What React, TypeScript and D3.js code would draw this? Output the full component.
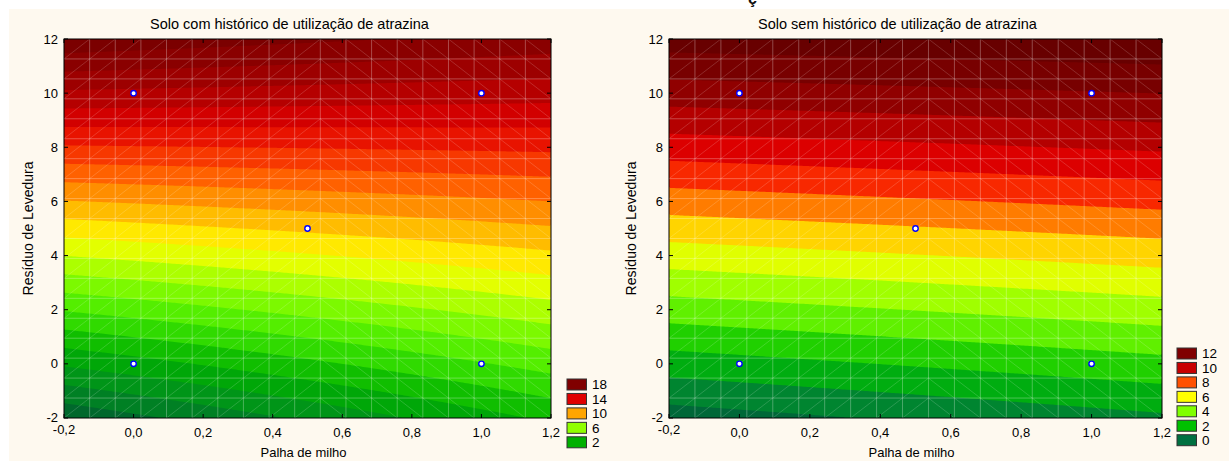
import React, { useMemo } from "react";
import * as d3 from "d3";

// Experimental design (palha de milho x resíduo de levedura) and measured response
const palha = [0, 1, 0, 1, 0.5];
const residuo = [0, 0, 10, 10, 5];
const respostaCom = [1.6, 3.93, 15.77, 15.46, 9.2];
const respostaSem = [1.67, 2.52, 11.57, 11.94, 6.93];

const xTicks = [-0.2, 0, 0.2, 0.4, 0.6, 0.8, 1.0, 1.2];
const yTicks = [-2, 0, 2, 4, 6, 8, 10, 12];

const legendCom = [18, 14, 10, 6, 2];
const legendSem = [12, 10, 8, 6, 4, 2, 0];

const stopsCom = [-3, -2, 0, 2, 4, 6, 8, 10, 12, 14, 16, 18, 20, 22];
const coresCom = [
  "#004d28", "#005c30", "#008c20", "#00b000", "#40e800", "#90ff00", "#ffff00",
  "#ffa500", "#ff4a00", "#e00000", "#a60000", "#800000", "#6c0000", "#600000",
];
const stopsSem = [-2, -1, 0, 1, 2, 3, 4, 5, 6, 7, 8, 9, 10, 11, 12, 13, 14];
const coresSem = [
  "#005028", "#006030", "#007040", "#009a20", "#00c000", "#40e000", "#80ff00",
  "#c0ff00", "#ffff00", "#ffa800", "#ff5000", "#f00000", "#c80000", "#a00000",
  "#800000", "#700000", "#600000",
];

const titulos = [
  "Solo com histórico de utilização de atrazina",
  "Solo sem histórico de utilização de atrazina",
];
const rotuloX = "Palha de milho";
const rotuloY = "Resíduo de Levedura";

const W = 1229;
const H = 461;
const FONT = "'Liberation Sans', Arial, sans-serif";
const GRID = 240;
const MESH = 19;
const BG = "#FEF9EF";

function solve(A: number[][], b: number[]): number[] {
  const n = b.length;
  const M = A.map((r, i) => [...r, b[i]]);
  for (let c = 0; c < n; c++) {
    let p = c;
    for (let r = c + 1; r < n; r++) if (Math.abs(M[r][c]) > Math.abs(M[p][c])) p = r;
    [M[c], M[p]] = [M[p], M[c]];
    for (let r = 0; r < n; r++) {
      if (r === c) continue;
      const f = M[r][c] / M[c][c];
      for (let k = c; k <= n; k++) M[r][k] -= f * M[c][k];
    }
  }
  return M.map((r, i) => r[n] / r[i]);
}

// least-squares fit of z = b0 + b1 x + b2 y + b12 x y
function fitSurface(x: number[], y: number[], z: number[]) {
  const X = x.map((xi, i) => [1, xi, y[i], xi * y[i]]);
  const idx = [0, 1, 2, 3];
  const XtX = idx.map((a) => idx.map((b) => d3.sum(X, (r) => r[a] * r[b])));
  const Xtz = idx.map((a) => d3.sum(X, (r, i) => r[a] * z[i]));
  const beta = solve(XtX, Xtz);
  return (px: number, py: number) => beta[0] + beta[1] * px + beta[2] * py + beta[3] * px * py;
}

const fmtX = (v: number) => v.toFixed(1).replace(".", ",");

type PanelProps = {
  left: number;
  right: number;
  top: number;
  bottom: number;
  title: string;
  resposta: number[];
  stops: number[];
  cores: string[];
  legend: number[];
  legendX: number;
  legendTop: number;
  yLabelX: number;
};

function Panel(p: PanelProps) {
  const x = d3.scaleLinear().domain([-0.2, 1.2]).range([p.left, p.right]);
  const y = d3.scaleLinear().domain([-2, 12]).range([p.bottom, p.top]);
  const color = d3.scaleLinear<string>().domain(p.stops).range(p.cores).interpolate(d3.interpolateRgb).clamp(true);

  const bands = useMemo(() => {
    const f = fitSurface(palha, residuo, p.resposta);
    const [x0, x1] = x.domain();
    const [y0, y1] = y.domain();
    const values = new Array(GRID * GRID);
    for (let j = 0; j < GRID; j++) {
      const yv = y1 - ((j + 0.5) / GRID) * (y1 - y0);
      for (let i = 0; i < GRID; i++) {
        const xv = x0 + ((i + 0.5) / GRID) * (x1 - x0);
        values[j * GRID + i] = f(xv, yv);
      }
    }
    const [mn, mx] = d3.extent(values) as [number, number];
    const th = d3.range(Math.floor(mn) - 1, Math.ceil(mx) + 1);
    const cs = d3.contours().size([GRID, GRID]).thresholds(th)(values);
    const L = p.left, T = p.top, w = p.right - p.left, h = p.bottom - p.top;
    const proj = d3.geoTransform({
      point: function (this: any, px: number, py: number) {
        this.stream.point(L + (px / GRID) * w, T + (py / GRID) * h);
      },
    });
    const path = d3.geoPath(proj);
    return cs.map((c) => ({ d: path(c as any) || "", fill: color(c.value + 0.5) }));
  }, [p.resposta]);

  // surface mesh: grid lines and cell diagonals
  const mesh = useMemo(() => {
    const g = d3.path();
    const diag = d3.path();
    const dx = (p.right - p.left) / MESH;
    const dy = (p.bottom - p.top) / MESH;
    for (let k = 1; k < MESH; k++) {
      g.moveTo(p.left + k * dx, p.top);
      g.lineTo(p.left + k * dx, p.bottom);
      g.moveTo(p.left, p.top + k * dy);
      g.lineTo(p.right, p.top + k * dy);
    }
    for (let i = 0; i < MESH; i++) {
      const xl = p.left + i * dx, xr = xl + dx;
      const forward = i <= (MESH - 1) / 2;
      for (let j = 0; j < MESH; j++) {
        const yt = p.top + j * dy, yb = yt + dy;
        if (forward) {
          diag.moveTo(xl, yb);
          diag.lineTo(xr, yt);
        } else {
          diag.moveTo(xl, yt);
          diag.lineTo(xr, yb);
        }
      }
    }
    return { grid: g.toString(), diag: diag.toString() };
  }, []);

  const cx = (p.left + p.right) / 2;
  const cy = (p.top + p.bottom) / 2;
  const tick = 4;

  return (
    <g fontFamily={FONT} fill="#000">
      <text x={cx - 18} y={29} fontSize={14.5} textAnchor="middle">{p.title}</text>
      {bands.map((b, i) => (
        <path key={i} d={b.d} fill={b.fill} stroke="none" />
      ))}
      <path d={mesh.grid} stroke="#ffffff" strokeOpacity={0.36} strokeWidth={0.8} fill="none" />
      <path d={mesh.diag} stroke="#ffffff" strokeOpacity={0.28} strokeWidth={0.6} fill="none" />
      {palha.map((v, i) => (
        <circle key={i} cx={x(v)} cy={y(residuo[i])} r={2.7} fill="#ffffff" stroke="#0000ff" strokeWidth={1.4} />
      ))}
      <rect x={p.left} y={p.top} width={p.right - p.left} height={p.bottom - p.top} fill="none" stroke="#000" strokeWidth={1} />
      {xTicks.map((v, i) => (
        <g key={"x" + i}>
          <line x1={x(v)} x2={x(v)} y1={p.bottom} y2={p.bottom - tick} stroke="#000" />
          <line x1={x(v)} x2={x(v)} y1={p.top} y2={p.top + tick} stroke="#000" />
          <text x={x(v)} y={i === 0 ? 434 : 437} fontSize={13} textAnchor="middle">{fmtX(v)}</text>
        </g>
      ))}
      {yTicks.map((v, i) => (
        <g key={"y" + i}>
          <line x1={p.left} x2={p.left + tick} y1={y(v)} y2={y(v)} stroke="#000" />
          <line x1={p.right} x2={p.right - tick} y1={y(v)} y2={y(v)} stroke="#000" />
          <text x={p.left - 6} y={i === 0 ? y(v) - 1 : y(v)} dy="0.35em" fontSize={13} textAnchor="end">{String(v)}</text>
        </g>
      ))}
      <text x={cx - 4} y={457} fontSize={13} textAnchor="middle">{rotuloX}</text>
      <text transform={`translate(${p.yLabelX},${cy}) rotate(-90)`} fontSize={14} textAnchor="middle">{rotuloY}</text>
      {p.legend.map((v, i) => (
        <g key={"l" + i}>
          <rect x={p.legendX} y={p.legendTop + i * 14.45} width={19.5} height={11} fill={color(v)} stroke="#333" strokeWidth={1} />
          <text x={p.legendX + 25} y={p.legendTop + i * 14.45 + 5.5} dy="0.36em" fontSize={13.5}>{String(v)}</text>
        </g>
      ))}
    </g>
  );
}

export default function App() {
  return (
    <svg width={W} height={H} style={{ position: "absolute", left: 0, top: 0, display: "block" }}>
      <rect x={0} y={0} width={W} height={H} fill="#ffffff" />
      <text x={748} y={4} fontSize={16} fontWeight="bold" fontFamily={FONT} fill="#111">ç</text>
      <rect x={9} y={9} width={W - 9} height={H - 9} fill={BG} />
      <Panel
        left={64} right={551} top={39} bottom={418}
        title={titulos[0]} resposta={respostaCom}
        stops={stopsCom} cores={coresCom}
        legend={legendCom} legendX={567} legendTop={379} yLabelX={33}
      />
      <Panel
        left={669} right={1162} top={39} bottom={418}
        title={titulos[1]} resposta={respostaSem}
        stops={stopsSem} cores={coresSem}
        legend={legendSem} legendX={1177} legendTop={348} yLabelX={636}
      />
    </svg>
  );
}
